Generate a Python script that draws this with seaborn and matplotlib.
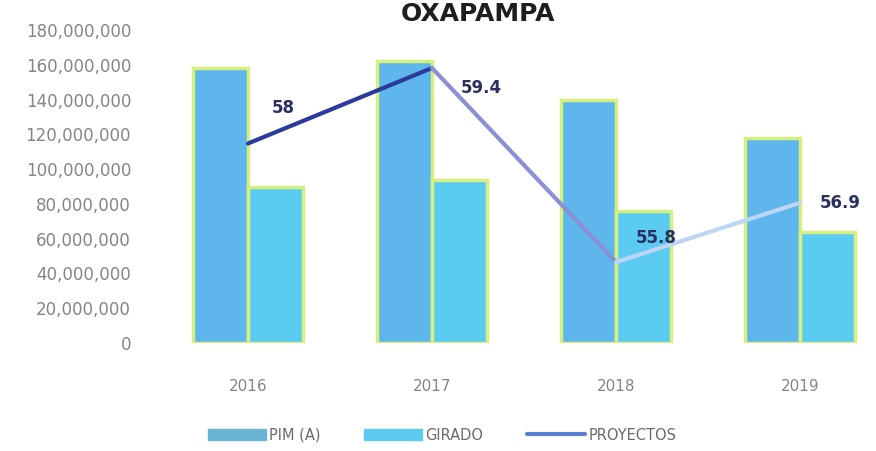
import matplotlib
matplotlib.use("Agg")
import matplotlib.pyplot as plt
import seaborn as sns
import pandas as pd
from matplotlib.lines import Line2D
from matplotlib.patches import Patch

years = ["2016", "2017", "2018", "2019"]
pim = [158_000_000, 162_000_000, 140_000_000, 118_000_000]
girado = [90_000_000, 94_000_000, 76_000_000, 64_000_000]
proyectos = [58.0, 59.4, 55.8, 56.9]
proy_labels = ["58", "59.4", "55.8", "56.9"]
series_names = ["PIM (A)", "GIRADO", "PROYECTOS"]
yticks = [0, 20_000_000, 40_000_000, 60_000_000, 80_000_000, 100_000_000,
          120_000_000, 140_000_000, 160_000_000, 180_000_000]

sns.set_theme(style="white")
plt.rcParams["font.family"] = ["DejaVu Sans"]

df = pd.DataFrame({
    "year": years * 2,
    "value": pim + girado,
    "serie": [series_names[0]] * 4 + [series_names[1]] * 4,
})
dfl = pd.DataFrame({"x": list(range(4)), "y": proyectos})

W, H = 876, 451
fig = plt.figure(figsize=(W / 100, H / 100), dpi=100)
left, right, top, bottom = 156, 876, 30, 343
ax = fig.add_axes([left / W, (H - bottom) / H, (right - left) / W, (bottom - top) / H])

bar_colors = {"PIM (A)": "#5fb6ec", "GIRADO": "#5ccbf1"}
sns.barplot(data=df, x="year", y="value", hue="serie", palette=bar_colors,
            width=0.6, ax=ax, edgecolor="#d6f07e", linewidth=2.5, legend=False,
            saturation=1)
ax.set_ylim(0, 180_000_000)
ax.set_xlim(-0.5, -0.5 + (right - left) / 184)
ax.set_yticks(yticks)
ax.set_yticklabels([f"{v:,}" for v in yticks], color="#858585", fontsize=12)
ax.tick_params(axis="x", colors="#858585", labelsize=11, pad=20)
ax.tick_params(axis="y", pad=18, length=0)
ax.set_xlabel("")
ax.set_ylabel("")
for s in ax.spines.values():
    s.set_visible(False)

ax2 = ax.twinx()
ax2.set_ylim(54.30, 60.105)
seg_colors = ["#2c3a9c", "#8a8fd6", "#bcd6f3"]
for i in range(3):
    sns.lineplot(data=dfl.iloc[i:i + 2], x="x", y="y", ax=ax2,
                 color=seg_colors[i], linewidth=3, legend=False)
ax2.set_yticks([])
ax2.set_ylabel("")
ax2.set_xlabel("")
for s in ax2.spines.values():
    s.set_visible(False)
ax2.set_xlim(ax.get_xlim())

offsets = [(35, 35), (49, -20), (40, 24), (40, 0)]
for i, (v, lab) in enumerate(zip(proyectos, proy_labels)):
    ax2.annotate(lab, (i, v), xytext=offsets[i], textcoords="offset pixels",
                 ha="center", va="center", fontsize=12, fontweight="bold",
                 color="#2b2f5e")

fig.text(478 / W, 1 - 14 / H, "OXAPAMPA", ha="center", va="center",
         fontsize=18, fontweight="bold", color="#1e1e1e")

handles = [Patch(facecolor="#6ab4d4", edgecolor="#6ab4d4"),
           Patch(facecolor="#5ccbf1", edgecolor="#5ccbf1"),
           Line2D([0], [0], color="#5b7fd0", linewidth=3)]
fig.legend(handles, series_names, loc="center", bbox_to_anchor=(442 / W, 16 / H),
           ncol=3, frameon=False, fontsize=10.5, labelcolor="#6a6a6a",
           handlelength=4, columnspacing=3, handletextpad=0.2)

fig.savefig("out.png", dpi=100)
